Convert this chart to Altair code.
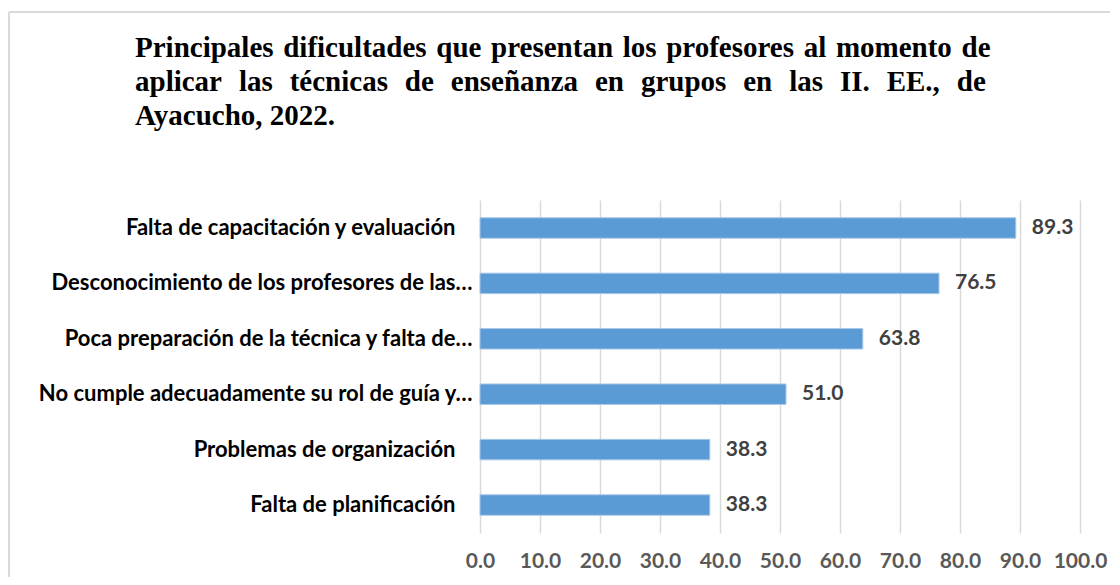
import altair as alt
import pandas as pd

categories = [
    "Falta de capacitación y evaluación",
    "Desconocimiento de los profesores de las…",
    "Poca preparación de la técnica y falta de…",
    "No cumple adecuadamente su rol de guía y…",
    "Problemas de organización",
    "Falta de planificación",
]
values = [89.3, 76.5, 63.8, 51.0, 38.3, 38.3]
x_ticks = [0, 10, 20, 30, 40, 50, 60, 70, 80, 90, 100]
title_lines = [
    "Principales dificultades que presentan los profesores al momento de",
    "aplicar las técnicas de enseñanza en grupos en las II. EE., de",
    "Ayacucho, 2022.",
]

df = pd.DataFrame({"cat": categories, "val": values})

# emulate the justified title lines with slightly wider word gaps
display_title = [
    title_lines[0].replace(" ", "\u200a "),
    title_lines[1].replace(" ", "\u2004 "),
    title_lines[2],
]

LABEL_FONT = "Lato"

base = alt.Chart(df).encode(
    y=alt.Y(
        "cat:N",
        sort=categories,
        title=None,
        scale=alt.Scale(paddingInner=0.63, paddingOuter=0.32),
        axis=alt.Axis(
            domain=False,
            ticks=False,
            grid=False,
            labelFont=LABEL_FONT,
            labelFontWeight="bold",
            labelFontSize=22,
            labelColor="#000000",
            labelPadding={
                "condition": {"test": "indexof(datum.value, '…') < 0", "value": 25},
                "value": 8,
            },
            labelLimit=600,
        ),
    ),
    x=alt.X(
        "val:Q",
        title=None,
        scale=alt.Scale(domain=[0, 100], nice=False),
        axis=alt.Axis(
            values=x_ticks,
            format=".1f",
            domain=False,
            ticks=False,
            grid=True,
            gridColor="#d9d9d9",
            gridWidth=1.5,
            labelOverlap=False,
            labelFlush=False,
            labelFont=LABEL_FONT,
            labelFontWeight="bold",
            labelFontSize=21,
            labelColor="#595959",
            labelPadding=17,
        ),
    ),
)

bars = base.mark_bar(color="#5b9bd5", stroke="#a9c8ea", strokeWidth=1)
labels = base.mark_text(
    align="left",
    baseline="middle",
    dx=16,
    font=LABEL_FONT,
    fontWeight="bold",
    fontSize=21,
    color="#404040",
).encode(text=alt.Text("val:Q", format=".1f"))

border_top = alt.Chart(df).mark_rule(color="#d9d9d9", strokeWidth=1.5).encode(
    x=alt.value(-471), x2=alt.value(640), y=alt.value(-188)
)
border_left = alt.Chart(df).mark_rule(color="#d9d9d9", strokeWidth=1.5).encode(
    x=alt.value(-471), y=alt.value(-188), y2=alt.value(400)
)

chart = (
    alt.layer(border_top, border_left, bars, labels)
    .properties(
        width=600,
        height=333,
        padding={"left": 472, "top": 192, "right": 30, "bottom": 44},
        autosize=alt.AutoSizeParams(type="none"),
        title=alt.TitleParams(
            text=display_title,
            font="Liberation Serif",
            fontSize=29,
            fontWeight="bold",
            color="#000000",
            anchor="start",
            frame="group",
            baseline="bottom",
            offset=0,
            dx=-345,
            dy=149,
            lineHeight=34,
        ),
    )
    .configure_view(stroke=None)
)

chart.save("out.html", embed_options={"renderer": "svg", "actions": False})
